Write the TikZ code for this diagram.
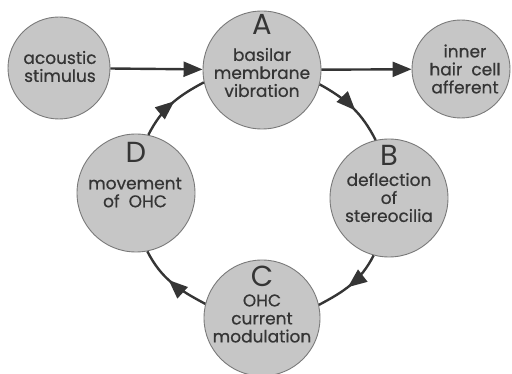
\documentclass[tikz,border=0pt]{standalone}
\usepackage{fontspec}
\setmainfont{Poppins}[FakeBold=0.6]
\newfontfamily\letterfont{Poppins}
\usetikzlibrary{arrows.meta,decorations.markings}
\definecolor{cellfill}{HTML}{C6C6C6}
\definecolor{cellline}{HTML}{7A7A7A}
\definecolor{ink}{HTML}{353535}
\begin{document}
\begin{tikzpicture}[x=1pt,y=-1pt,
  cell/.style={circle,draw=cellline,fill=cellfill,line width=0.9pt,inner sep=0pt},
  txt/.style={align=center,inner sep=0pt,text=ink,font=\fontsize{17}{18}\selectfont},
  letter/.style={inner sep=0pt,text=ink,font=\letterfont\fontsize{29}{29}\selectfont},
  link/.style={draw=ink,line width=2.4pt},
  straight/.style={link,-{Triangle[length=19pt,width=15pt]}},
  mid/.style={link,postaction={decorate},decoration={markings,
     mark=at position 0.55 with {\arrow{Triangle[length=19pt,width=15pt]}}}}]
\useasboundingbox (0,0) rectangle (512,374);
% circles
\node[cell,minimum size=102pt] (S) at (59,68) {};
\node[cell,minimum size=118pt] (A) at (262,70) {};
\node[cell,minimum size=98pt]  (I) at (461,69) {};
\node[cell,minimum size=118pt] (B) at (389,198) {};
\node[cell,minimum size=116pt] (C) at (262,318) {};
\node[cell,minimum size=118pt] (D) at (136,193) {};
% texts
\node[txt] (St) at (60,66.5) {acoustic\\stimulus};
\node[letter] (Al) at (262,24) {A};
\node[txt] (At) at (262,72.5) {basilar\\membrane\\vibration};
\node[txt] (It) at (465,69) {inner\\hair\ \ cell\\afferent};
\node[letter] (Bl) at (389,155) {B};
\node[txt] (Bt) at (389,197.5) {deflection\\of\\stereocilia};
\node[letter] (Cl) at (262,276) {C};
\node[txt] (Ct) at (262,318.5) {OHC\\current\\modulation};
\node[letter] (Dl) at (136,152.5) {D};
\node[txt] (Dt) at (135,192.5) {movement\\of\ \ OHC};
% connectors
\draw[straight] (S) -- (A);
\draw[straight] (A) -- (I);
\draw[mid] (A.-14) to[out=-29,in=117] (B.103);
\draw[mid] (B.-105) to[out=-117,in=28] (C.13);
\draw[mid] (C.166) to[out=152,in=-63] (D.-79);
\draw[mid] (D.78) to[out=63,in=-152] (A.-168);
\end{tikzpicture}
\end{document}
